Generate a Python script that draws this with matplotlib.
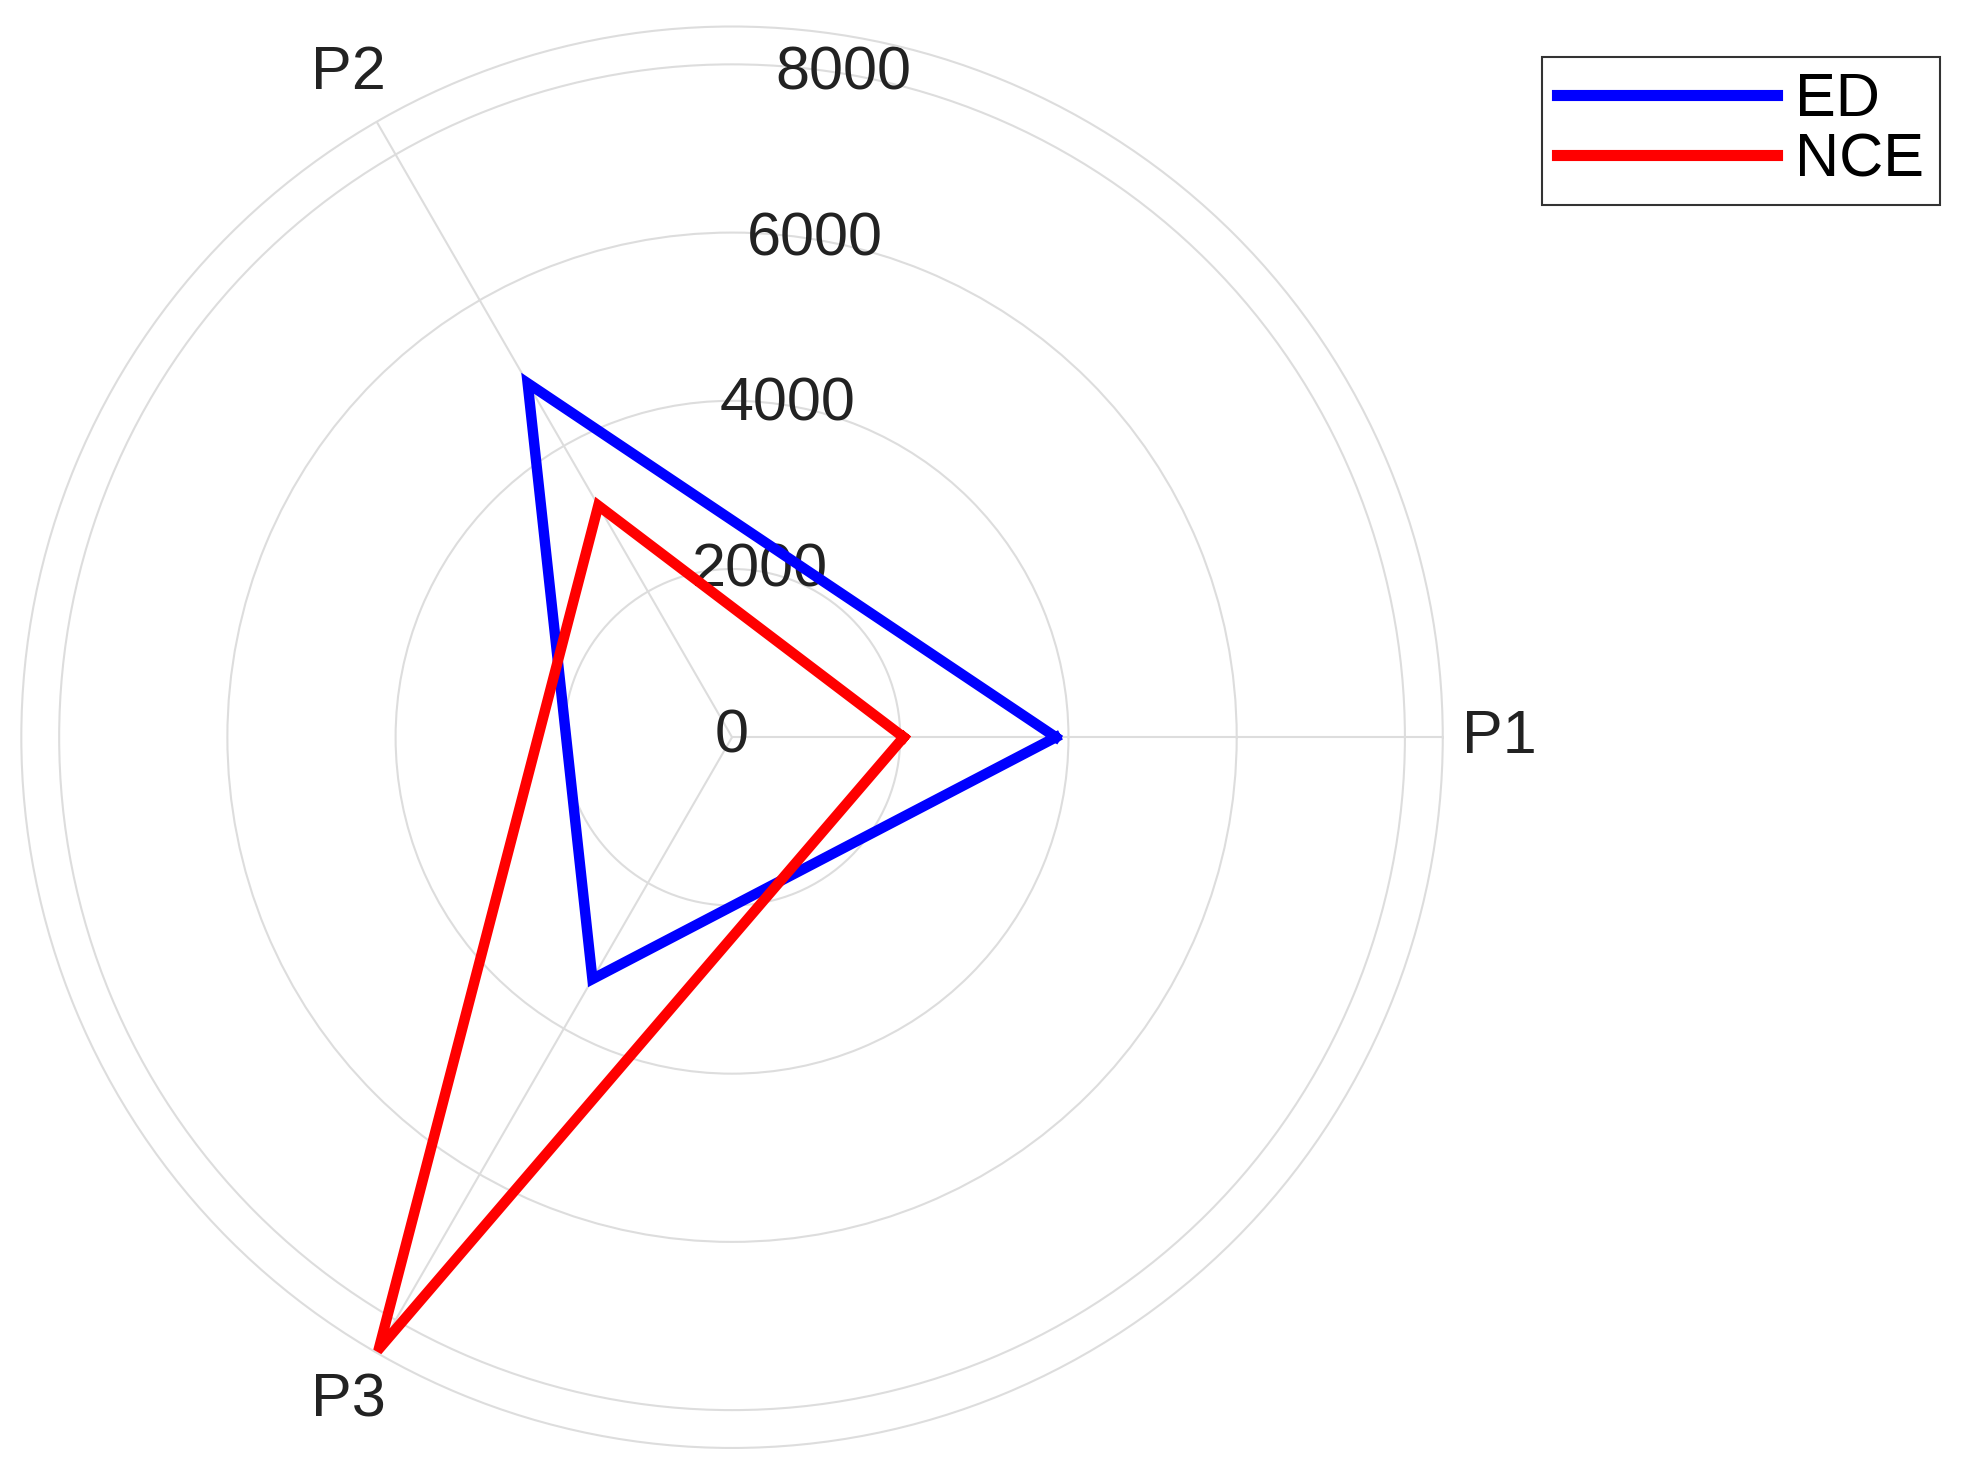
import numpy as np
import matplotlib
matplotlib.use("Agg")
import matplotlib.pyplot as plt

categories = ["P1", "P2", "P3"]
ed = [3850, 4860, 3320]
nce = [2040, 3180, 8400]
rticks = [0, 2000, 4000, 6000, 8000]

plt.rcParams['font.family'] = ['Liberation Sans', 'DejaVu Sans']
fig = plt.figure(figsize=(19.86, 14.73), dpi=100)
ax = fig.add_axes([0.0106, 0.017, 0.716, 0.965], projection='polar')

ang = np.deg2rad([0, 120, 240])
angc = np.append(ang, ang[0])
ax.plot(angc, ed + ed[:1], color='#0000ff', lw=7.5, label='ED', solid_joinstyle='miter')
ax.plot(angc, nce + nce[:1], color='#ff0000', lw=7.5, label='NCE', solid_joinstyle='miter')

ax.set_ylim(0, 8450)
ax.set_yticks(rticks)
ax.set_yticklabels([str(t) for t in rticks], fontsize=44, color='#222222')
ax.set_rlabel_position(80.5)
for lab in ax.get_yticklabels():
    lab.set_horizontalalignment('center')
    lab.set_verticalalignment('center')
ax.set_xticks(ang)
ax.set_xticklabels(categories, fontsize=44, color='#222222')
ax.tick_params(axis='x', pad=30)
ax.grid(True, color='#dddddd', lw=1.5)
ax.spines['polar'].set_color('#dddddd')
ax.spines['polar'].set_linewidth(1.5)

leg = fig.legend(loc='upper right', bbox_to_anchor=(0.992, 0.982), fontsize=44,
                 frameon=True, fancybox=False, handlelength=3.6, borderpad=0.25,
                 labelspacing=0.05, handletextpad=0.3)
for l in leg.get_lines():
    l.set_linewidth(8)
leg.get_frame().set_edgecolor('black')
leg.get_frame().set_linewidth(1.5)

fig.savefig("out.png", dpi=100)
